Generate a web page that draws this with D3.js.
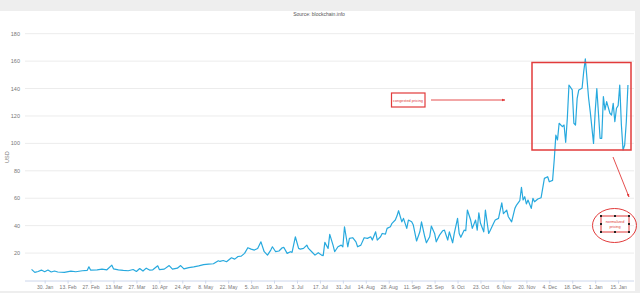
<!DOCTYPE html>
<html>
<head>
<meta charset="utf-8">
<script src="https://cdn.jsdelivr.net/npm/d3@7"></script>
<style>
  body { margin: 0; background: #eeeeee; }
  svg { display: block; font-family: "Liberation Sans", Arial, sans-serif; }
</style>
</head>
<body>
<div id="chart"></div>
<script>
// cost per transaction (USD)
// day = days since 22 Jan 2017
const startDate = new Date(2017, 0, 22);
const days = [0, 2, 4, 6, 8, 10, 12, 14, 16, 20, 24, 27, 31, 34, 35, 36, 40, 43, 46, 49,
  50, 53, 56, 59, 62, 64, 66, 68, 70, 72, 74, 77, 78, 81, 84, 86, 89, 91, 93, 96,
  99, 102, 105, 108, 111, 114, 115, 117, 119, 122, 124, 126, 128, 130, 132, 134, 136, 138, 140, 142,
  144, 146, 147, 149, 151, 153, 154, 156, 158, 159, 161, 163, 164, 166, 168, 169, 171, 173, 175, 177,
  178, 179, 181, 182, 184, 185, 187, 189, 190, 191, 193, 194, 196, 198, 199, 201, 203, 205, 207, 208,
  210, 211, 213, 214, 216, 217, 219, 220, 222, 223, 224, 226, 227, 228, 229, 230, 232, 233, 235, 237,
  238, 240, 241, 243, 244, 246, 247, 249, 251, 252, 254, 255, 257, 258, 260, 261, 262, 264, 265, 266,
  268, 269, 271, 272, 273, 274, 276, 277, 279, 280, 282, 283, 285, 287, 288, 290, 291, 293, 295, 296,
  298, 299, 300, 301, 302, 303, 305, 306, 307, 309, 311, 313, 315, 316, 318, 319, 320, 321, 322, 324,
  325, 326, 327, 328, 330, 331, 332, 333, 334, 336, 337, 338, 340, 341, 343, 344, 345, 347, 348, 349,
  350, 351, 353, 354, 355, 356, 357, 358, 359, 360, 361, 362, 363, 364];
const usd = [8.1, 5.9, 6.6, 7.6, 6.4, 7.6, 6.2, 6.9, 6.2, 5.9, 6.9, 6.4, 7.1, 7.4, 10.0, 7.6, 7.8, 8.3, 7.8, 11.2,
  8.5, 7.8, 7.4, 7.1, 8.0, 6.6, 8.7, 6.9, 9.0, 7.6, 7.8, 10.7, 8.0, 8.3, 10.9, 8.3, 9.0, 10.9, 8.5, 9.4,
  9.9, 10.7, 11.6, 11.9, 12.2, 14.4, 13.9, 14.6, 13.7, 16.6, 15.6, 17.5, 17.8, 19.8, 23.9, 22.9, 22.2, 23.4, 28.2, 21.0,
  18.5, 22.2, 24.6, 21.0, 21.5, 23.9, 24.1, 19.8, 21.0, 20.5, 31.9, 23.4, 22.9, 23.4, 25.8, 23.4, 21.0, 18.5, 20.3, 18.5,
  18.1, 27.8, 23.4, 33.6, 25.8, 21.0, 24.6, 25.8, 24.6, 39.2, 24.6, 30.7, 31.2, 28.2, 24.6, 25.8, 31.2, 30.7, 31.9, 29.5,
  35.5, 29.5, 31.9, 34.3, 33.8, 38.0, 39.2, 41.7, 44.1, 47.0, 50.9, 42.8, 45.3, 41.7, 38.0, 44.1, 42.8, 40.4, 28.8, 35.5,
  42.8, 31.9, 27.5, 31.9, 39.7, 34.3, 28.2, 33.1, 36.3, 36.7, 29.5, 35.5, 27.5, 34.3, 45.3, 34.3, 31.5, 36.7, 36.3, 51.4,
  44.1, 38.0, 44.1, 36.7, 49.4, 41.7, 35.5, 51.4, 34.3, 36.7, 41.7, 44.1, 45.3, 56.7, 48.7, 51.4, 46.5, 42.8, 52.6, 55.0,
  58.2, 68.0, 58.7, 61.1, 55.8, 58.7, 52.6, 60.0, 57.4, 59.4, 60.4, 74.5, 75.7, 72.0, 73.0, 87.9, 106.0, 102.5, 114.7, 112.2,
  113.4, 100.8, 118.3, 142.6, 139.0, 114.7, 113.4, 132.9, 139.0, 140.2, 152.3, 161.6, 132.9, 123.0, 100.0, 123.0, 140.0, 103.7, 103.7, 134.1,
  124.4, 130.4, 122.0, 120.7, 129.2, 115.8, 125.6, 127.5, 142.6, 113.4, 95.2, 98.8, 115.8, 142.6];
const yTicks = [20, 40, 60, 80, 100, 120, 140, 160, 180];
const xTickDates = d3.timeDay.range(new Date(2017, 0, 30), new Date(2018, 0, 16), 14);

const width = 640, height = 293;
const months = ["Jan", "Feb", "Mar", "Apr", "May", "Jun", "Jul", "Aug", "Sep", "Oct", "Nov", "Dec"];
const fmt = d => d.getDate() + ". " + months[d.getMonth()];

const svg = d3.select("#chart").append("svg")
  .attr("width", width).attr("height", height);

// white panel
svg.append("rect").attr("x", 0).attr("y", 11).attr("width", 635).attr("height", 280)
  .attr("fill", "#ffffff");

const x = d3.scaleTime()
  .domain([new Date(2017, 0, 18), new Date(2018, 0, 25)])
  .range([25, 634.5]);
const y = d3.scaleLinear().domain([0, 180]).range([280.5, 33.7]);

// grid lines
svg.append("g").selectAll("line").data(yTicks).enter().append("line")
  .attr("x1", 25).attr("x2", 634)
  .attr("y1", d => y(d)).attr("y2", d => y(d))
  .attr("stroke", "#ececec").attr("stroke-width", 1);

// y labels
svg.append("g").selectAll("text").data(yTicks).enter().append("text")
  .attr("x", 20).attr("y", d => y(d) + 2)
  .attr("text-anchor", "end").attr("font-size", 5.5).attr("fill", "#777")
  .text(d => d);

svg.append("text")
  .attr("transform", "translate(9," + y(90) + ") rotate(-90)")
  .attr("text-anchor", "middle").attr("font-size", 5.5).attr("fill", "#777")
  .text("USD");

// x axis
const xAxis = d3.axisBottom(x).tickValues(xTickDates).tickFormat(fmt).tickSize(3).tickPadding(2);
const gx = svg.append("g").attr("transform", "translate(0," + y(0) + ")").call(xAxis);
gx.select(".domain").attr("d", "M25,0.5H634").attr("stroke", "#ccd6eb");
gx.selectAll(".tick line").attr("stroke", "#ccd6eb");
gx.selectAll(".tick text").attr("font-size", 5).attr("fill", "#777")
  .attr("font-family", "Liberation Sans, Arial, sans-serif");

// source
svg.append("text").attr("x", 319).attr("y", 15.5).attr("text-anchor", "middle")
  .attr("font-size", 5).attr("fill", "#555").text("Source: blockchain.info");

// series
const line = d3.line()
  .x((d, i) => x(d3.timeDay.offset(startDate, days[i])))
  .y(d => y(d));
svg.append("path").datum(usd)
  .attr("d", line).attr("fill", "none")
  .attr("stroke", "#27a9de").attr("stroke-width", 1.2).attr("stroke-linejoin", "round");

// annotations
const red = "#e23b3b";
const defs = svg.append("defs");
defs.append("marker").attr("id", "ah").attr("viewBox", "0 0 10 10")
  .attr("refX", 9).attr("refY", 5).attr("markerWidth", 4).attr("markerHeight", 4)
  .attr("orient", "auto")
  .append("path").attr("d", "M0,1L10,5L0,9z").attr("fill", red);

svg.append("rect").attr("x", 532).attr("y", 62.5).attr("width", 99).attr("height", 87.5)
  .attr("fill", "none").attr("stroke", red).attr("stroke-width", 1.5);

svg.append("rect").attr("x", 391.5).attr("y", 93).attr("width", 33.5).attr("height", 14)
  .attr("fill", "#fff").attr("stroke", red).attr("stroke-width", 1.2);
svg.append("text").attr("x", 408).attr("y", 101.5).attr("text-anchor", "middle")
  .attr("font-size", 3.8).attr("fill", red).text("congested pricing");
svg.append("line").attr("x1", 431).attr("y1", 100).attr("x2", 505).attr("y2", 100)
  .attr("stroke", red).attr("stroke-width", 0.9).attr("marker-end", "url(#ah)");

svg.append("line").attr("x1", 613).attr("y1", 157).attr("x2", 629).attr("y2", 197)
  .attr("stroke", red).attr("stroke-width", 0.9).attr("marker-end", "url(#ah)");

svg.append("ellipse").attr("cx", 614.5).attr("cy", 225.5).attr("rx", 22).attr("ry", 17)
  .attr("fill", "none").attr("stroke", red).attr("stroke-width", 1);
svg.append("rect").attr("x", 601).attr("y", 216).attr("width", 28).attr("height", 16)
  .attr("fill", "#fff").attr("stroke", red).attr("stroke-width", 1);
svg.append("text").attr("x", 615).attr("y", 223).attr("text-anchor", "middle")
  .attr("font-size", 3.8).attr("fill", red).text("normalized");
svg.append("text").attr("x", 615).attr("y", 228).attr("text-anchor", "middle")
  .attr("font-size", 3.8).attr("fill", red).text("pricing");
const handles = [[601, 216], [615, 216], [629, 216], [601, 224], [629, 224], [601, 232], [615, 232], [629, 232]];
svg.append("g").selectAll("rect").data(handles).enter().append("rect")
  .attr("x", d => d[0] - 1).attr("y", d => d[1] - 1).attr("width", 2).attr("height", 2)
  .attr("fill", "#222");
</script>
</body>
</html>
